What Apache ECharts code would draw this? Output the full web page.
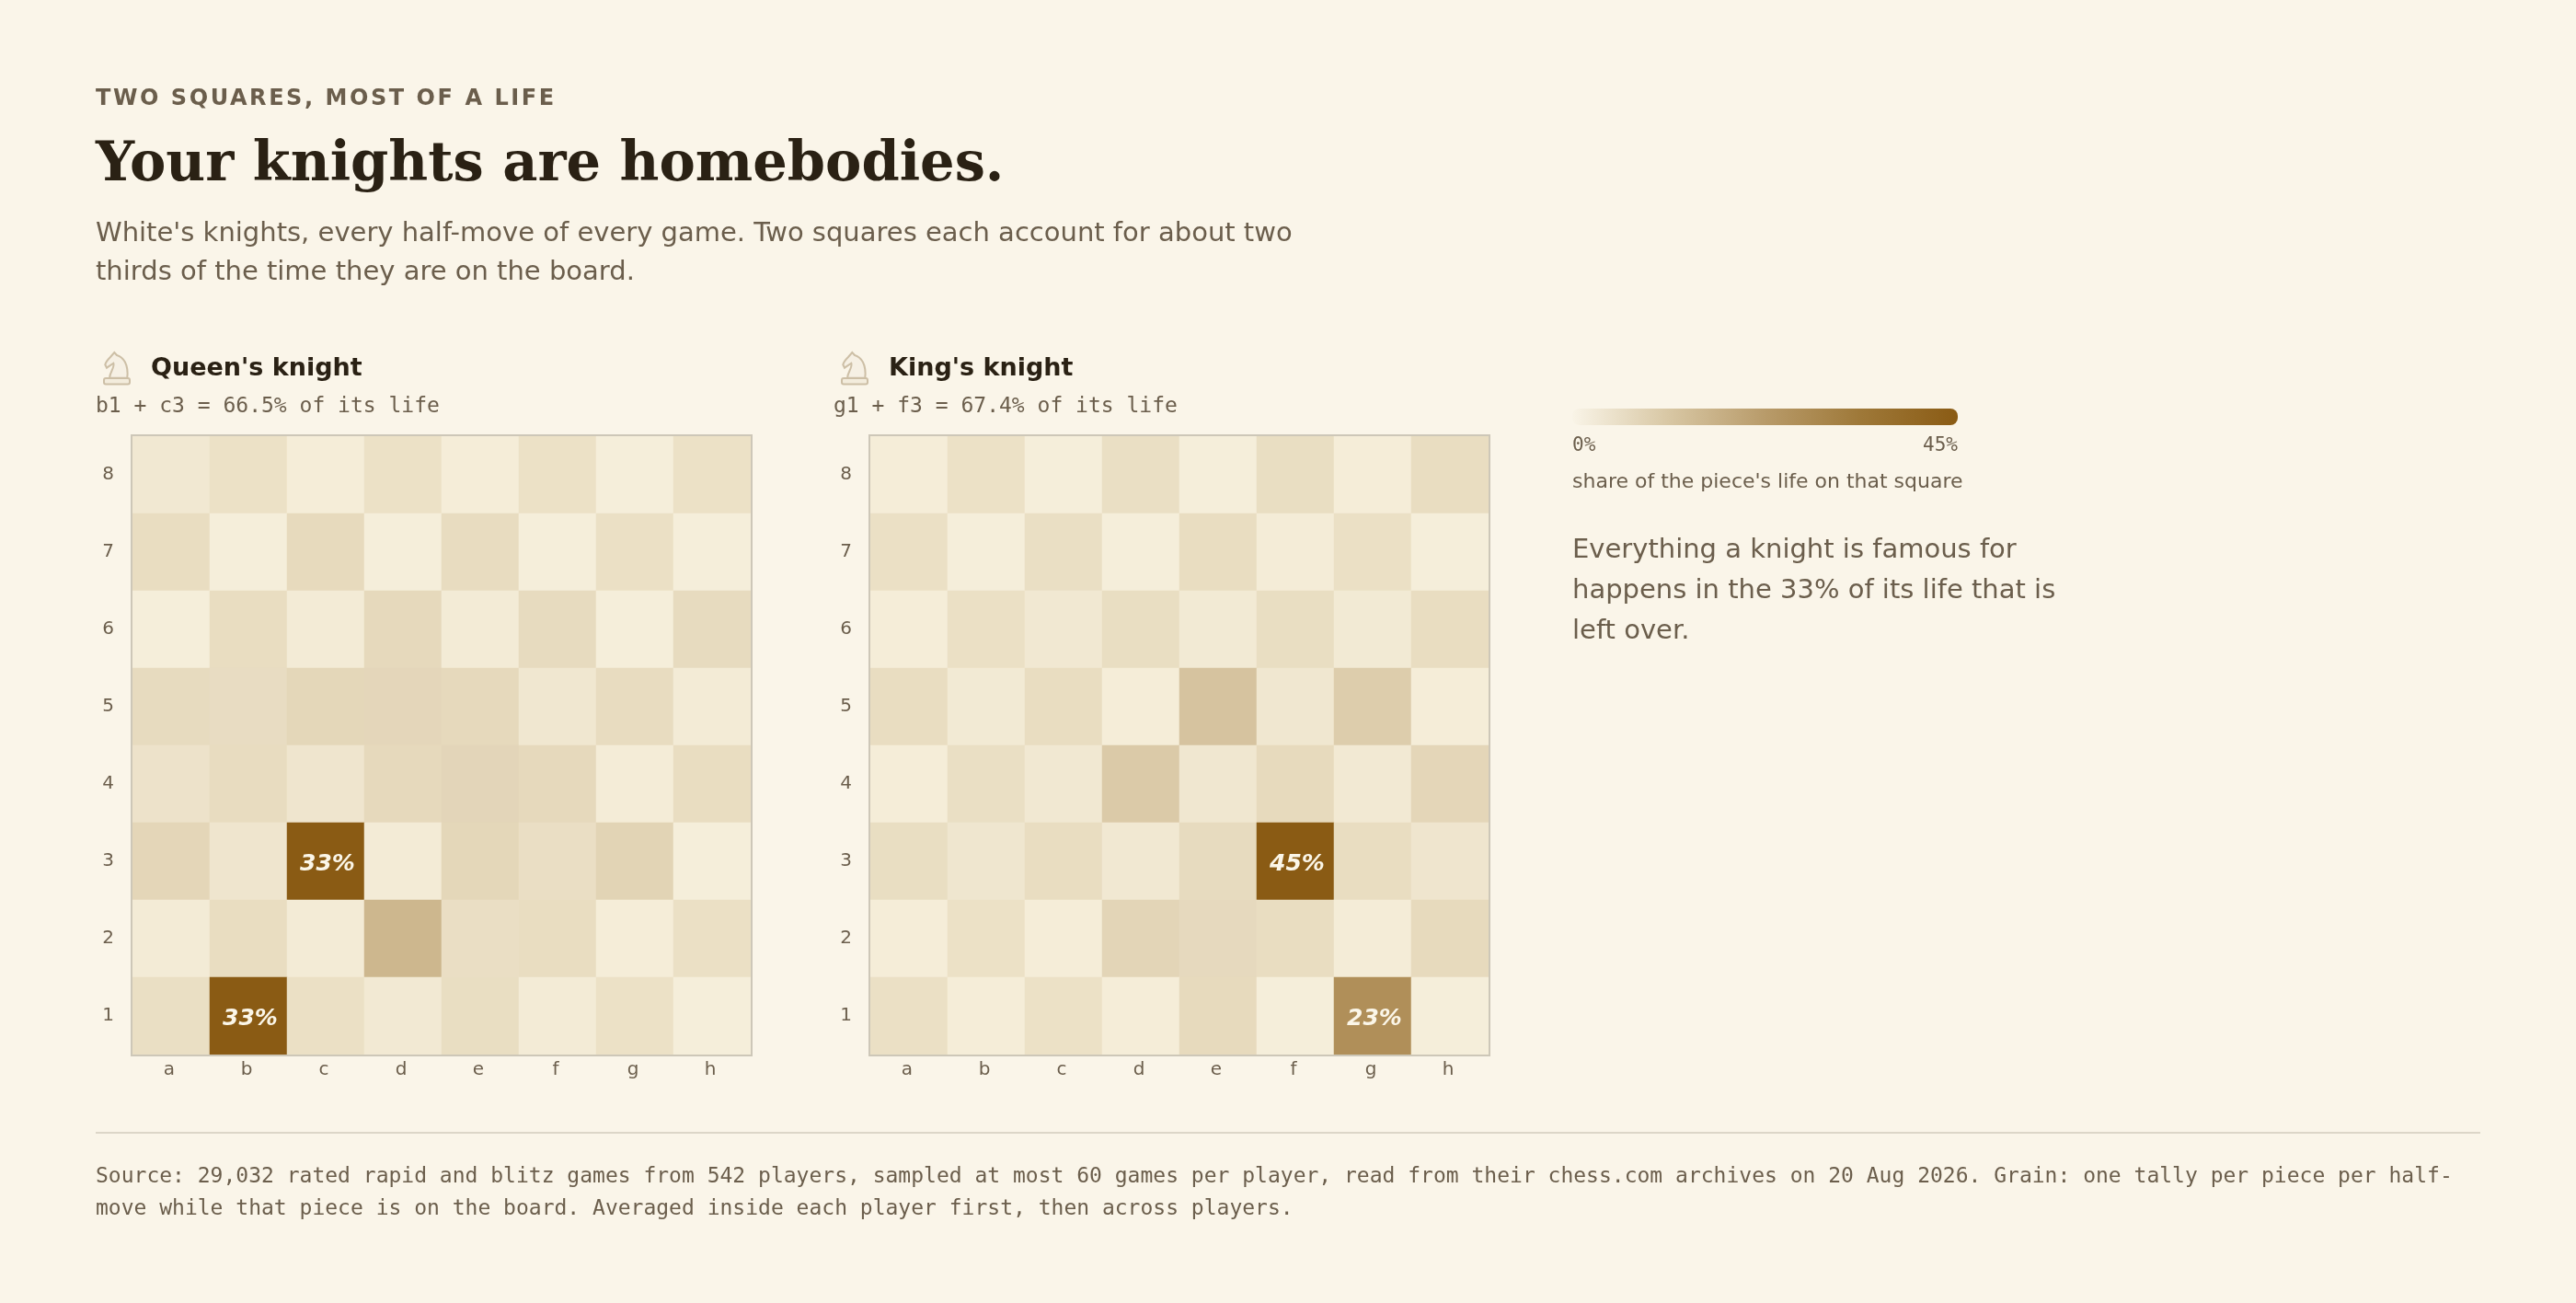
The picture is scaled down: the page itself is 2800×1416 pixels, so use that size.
<!DOCTYPE html>
<html>
<head>
<meta charset="utf-8">
<title>Your knights are homebodies.</title>
<style>
html,body{margin:0;padding:0;background:#faf5e9;width:2800px;height:1416px;overflow:hidden}
#chart{position:absolute;left:0;top:0;width:2800px;height:1416px}
#eyebrow{position:absolute;left:104px;top:91px;font:bold 24px/30px "DejaVu Sans",sans-serif;letter-spacing:2.56px;color:#6b5e4c;white-space:nowrap}
</style>
<script src="https://cdn.jsdelivr.net/npm/echarts@6/dist/echarts.min.js"></script>
</head>
<body>
<div id="chart"></div>
<div id="eyebrow">TWO SQUARES, MOST OF A LIFE</div>
<script>
const files = ['a','b','c','d','e','f','g','h'];
const ranks = ['1','2','3','4','5','6','7','8'];

// share of the piece's life per square (%), listed rank 8 first, files a to h
const queenKnight = [
  [0.42,0.08,0.07,0.08,0.07,0.08,0.03,0.08],
  [0.37,0.03,0.67,0.03,0.46,0.03,0.14,0.03],
  [0.03,0.37,0.19,0.77,0.19,0.56,0.03,0.56],
  [0.56,1.74,1.00,2.57,0.77,0.51,0.46,0.19],
  [1.00,0.46,0.69,0.77,2.70,0.77,0.12,0.37],
  [1.12,0.69,33.25,0.19,1.00,1.49,1.38,0.03],
  [0.19,0.37,0.19,6.66,1.49,0.37,0.07,0.14],
  [0.21,33.25,0.14,0.33,0.29,0.19,0.08,0.03]
];
const kingKnight = [
  [0.09,0.11,0.04,0.29,0.04,0.39,0.09,0.50],
  [0.19,0.04,0.29,0.04,0.50,0.16,0.19,0.04],
  [0.09,0.19,0.57,0.39,0.36,0.39,0.36,0.50],
  [0.50,0.36,0.50,0.09,5.58,0.70,3.24,0.09],
  [0.09,0.29,0.57,3.92,0.70,0.91,0.45,1.53],
  [0.39,0.81,0.50,0.57,0.76,44.80,0.50,0.94],
  [0.09,0.11,0.09,1.71,2.93,0.50,0.16,0.91],
  [0.19,0.09,0.11,0.09,0.91,0.04,22.60,0.04]
];
const legendTicks = ['0%','45%'];
const subtitleLines = "White's knights, every half-move of every game. Two squares each account for about two\nthirds of the time they are on the board.";
const noteLines = "Everything a knight is famous for\nhappens in the 33% of its life that is\nleft over.";
const sourceLines = "Source: 29,032 rated rapid and blitz games from 542 players, sampled at most 60 games per player, read from their chess.com archives on 20 Aug 2026. Grain: one tally per piece per half-\nmove while that piece is on the board. Averaged inside each player first, then across players.";

const BG = '#faf5e9', INK = '#2a2114', MUTED = '#6b5e4c', BROWN = [138,91,20];
const LIGHT = [246,239,219], DARK = [237,227,201];
const SANS = '"DejaVu Sans",sans-serif', SERIF = '"DejaVu Serif",serif', MONO = '"DejaVu Sans Mono",monospace';

function cellColor(v, fx, ry, peak) {
  // a1 is a dark square: file index + rank index even
  const base = (fx + ry) % 2 === 0 ? DARK : LIGHT;
  const t = Math.min(1, Math.pow(v / peak, 0.7));
  const c = base.map((b, i) => Math.round(b + (BROWN[i] - b) * t));
  return 'rgb(' + c.join(',') + ')';
}
function cells(board) {
  const peak = Math.max.apply(null, board.map(r => Math.max.apply(null, r)));
  const out = [];
  board.forEach((row, i) => row.forEach((v, fx) => {
    const ry = 7 - i;
    const item = { value: [fx, ry, v], itemStyle: { color: cellColor(v, fx, ry, peak) } };
    if (v >= 20) item.label = { show: true };
    out.push(item);
  }));
  return out;
}
const CELL = 84, SIDE = CELL * 8, TOP = 474, LEFTS = [144, 946];
const boards = [queenKnight, kingKnight];

function axisPair(idx) {
  return {
    x: { type:'category', gridIndex:idx, data:files, position:'bottom',
      axisLine:{show:false}, axisTick:{show:false}, splitLine:{show:false}, splitArea:{show:false},
      axisLabel:{ color:MUTED, fontFamily:SANS, fontSize:20, margin:7, padding:[0,4,0,0] } },
    y: { type:'category', gridIndex:idx, data:ranks,
      axisLine:{show:false}, axisTick:{show:false}, splitLine:{show:false}, splitArea:{show:false},
      axisLabel:{ color:MUTED, fontFamily:SANS, fontSize:20, margin:20, padding:[0,0,2,0] } }
  };
}
const pairs = [axisPair(0), axisPair(1)];

echarts.graphic.registerShape('knightHead', echarts.graphic.extendShape({
  shape: {},
  buildPath(ctx) {
    ctx.moveTo(29,40.7);
    ctx.bezierCurveTo(29.5,34,35,29,33.3,24.7);
    ctx.lineTo(26,29.7); ctx.lineTo(24.3,26.3);
    ctx.bezierCurveTo(25,23,28,20,30,18);
    ctx.lineTo(34.3,13); ctx.lineTo(37,16);
    ctx.bezierCurveTo(44,18,50,26,48.3,40.7);
    ctx.closePath();
  }
}));

function txt(x, y, text, font, fill, extra) {
  return { type:'text', silent:true, z:20,
    style: Object.assign({ x:x, y:y, text:text, font:font, fill:fill, verticalAlign:'middle', align:'left' }, extra || {}) };
}
function frame(left) {
  return { type:'rect', silent:true, z:15, shape:{ x:left-1, y:TOP-1, width:SIDE+2, height:SIDE+2 },
    style:{ fill:'none', stroke:'#cdc7b8', lineWidth:2 } };
}
function knight(dx) {
  const sx = 90 + dx, sy = 370;
  return [
    { type:'knightHead', silent:true, z:20, x:sx, y:sy, shape:{},
      style:{ fill:'#f6f0e4', stroke:'#cdbfa6', lineWidth:2 } },
    { type:'rect', silent:true, z:21, x:sx, y:sy, shape:{ x:23, y:41, width:28, height:6.5, r:2 },
      style:{ fill:'#f3ecdc', stroke:'#cdbfa6', lineWidth:2 } }
  ];
}
const option = {
  backgroundColor: BG,
  animation: false,
  grid: LEFTS.map(l => ({ left:l, top:TOP, width:SIDE, height:SIDE, show:false, containLabel:false })),
  xAxis: pairs.map(p => p.x),
  yAxis: pairs.map(p => p.y),
  series: boards.map((b, i) => ({
    type:'heatmap', xAxisIndex:i, yAxisIndex:i, data:cells(b), progressive:0,
    itemStyle:{ borderWidth:0 }, emphasis:{ disabled:true },
    label:{ show:false, color:'#fbf6e8', fontFamily:SANS, fontSize:25, fontWeight:'bold', fontStyle:'italic',
      offset:[2,3], formatter: p => Math.round(p.value[2]) + '%' }
  })),
  graphic: { elements: [
    txt(104, 181, 'Your knights are homebodies.', 'bold 59px '+SERIF, INK),
    txt(104, 254, subtitleLines.split('\n')[0], '29px '+SANS, MUTED),
    txt(104, 296, subtitleLines.split('\n')[1], '29px '+SANS, MUTED),
    frame(LEFTS[0]), frame(LEFTS[1]),
    ...knight(0), ...knight(802),
    txt(164, 401, "Queen's knight", 'bold 27px '+SANS, INK),
    txt(966, 401, "King's knight", 'bold 27px '+SANS, INK),
    txt(104, 442, 'b1 + c3 = 66.5% of its life', '23px '+MONO, MUTED),
    txt(906, 442, 'g1 + f3 = 67.4% of its life', '23px '+MONO, MUTED),
    { type:'rect', silent:true, z:20, shape:{ x:1709, y:444, width:419, height:18, r:8 },
      style:{ fill:{ type:'linear', x:0, y:0, x2:1, y2:0, colorStops:[
        {offset:0,color:'#f9f4e7'},{offset:0.25,color:'#d8c7a4'},{offset:0.5,color:'#b89b6a'},{offset:0.75,color:'#9e7838'},{offset:1,color:'#8a5b14'}] } } },
    txt(1709, 485, legendTicks[0], '21px '+MONO, MUTED),
    txt(2128, 485, legendTicks[1], '21px '+MONO, MUTED, { align:'right' }),
    txt(1709, 524, "share of the piece's life on that square", '22px '+SANS, MUTED),
    txt(1709, 598, noteLines.split('\n')[0], '29px '+SANS, MUTED),
    txt(1709, 642, noteLines.split('\n')[1], '29px '+SANS, MUTED),
    txt(1709, 686, noteLines.split('\n')[2], '29px '+SANS, MUTED),
    { type:'rect', silent:true, z:20, shape:{ x:104, y:1230, width:2592, height:2 }, style:{ fill:'#dcd6c8' } },
    txt(104, 1279, sourceLines.split('\n')[0], '23px '+MONO, MUTED),
    txt(104, 1314, sourceLines.split('\n')[1], '23px '+MONO, MUTED)
  ] }
};
const chart = echarts.init(document.getElementById('chart'), null, { renderer:'canvas', devicePixelRatio:1 });
chart.setOption(option);
</script>
</body>
</html>
